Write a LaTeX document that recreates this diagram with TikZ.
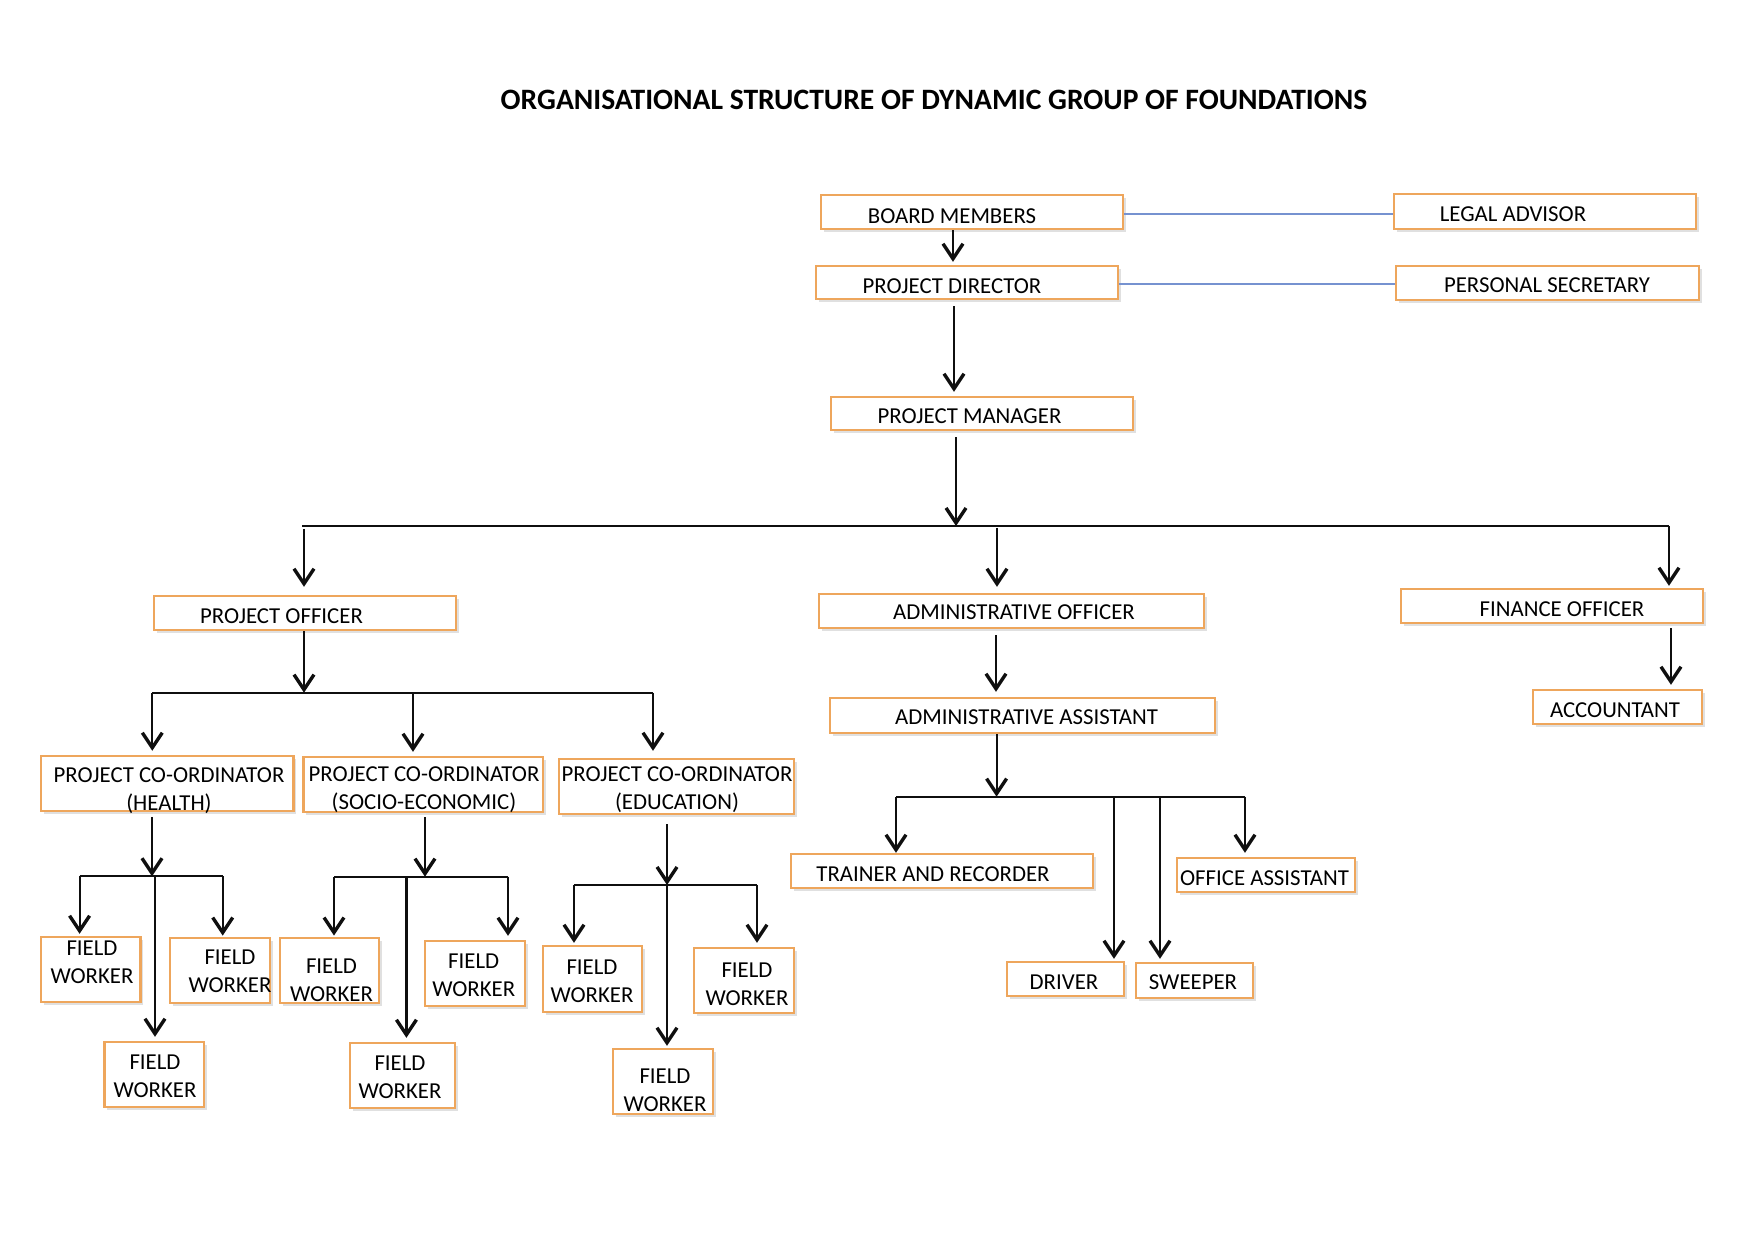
\documentclass[tikz,border=0pt]{standalone}
\usepackage{fontspec}
\setmainfont{Carlito}
\usetikzlibrary{arrows.meta,fit,shadows}
\definecolor{boxor}{RGB}{238,166,92}
\definecolor{linkblue}{RGB}{118,146,208}
\definecolor{ink}{RGB}{15,15,15}
\begin{document}
\begin{tikzpicture}[x=0.5pt,y=-0.5pt,
  box/.style={draw=boxor, line width=1.2pt, fill=white, inner sep=0pt,
    general shadow={shadow xshift=1.3pt, shadow yshift=-1.3pt, fill=black!12}},
  lbl/.style={font=\fontsize{11.4pt}{14pt}\selectfont, inner sep=0pt, anchor=base, align=center},
  ln/.style={draw=ink, line width=1.1pt},
  arr/.style={draw=ink, line width=1.1pt, -{Straight Barb[length=7.5pt,width=10pt,line width=1.7pt]}},
  bl/.style={draw=linkblue, line width=0.8pt}]
\fill[white] (0,0) rectangle (1753,1240);
\useasboundingbox (0,0) rectangle (1753,1240);

\node[font=\fontsize{14.8pt}{16pt}\selectfont\bfseries, inner sep=0pt, anchor=base] (title) at (934,110) {ORGANISATIONAL STRUCTURE OF DYNAMIC GROUP OF FOUNDATIONS};

% boxes
\node[box, fit={(821,195) (1123,229)}] (bm) {};
\node[box, fit={(816,266) (1118,299)}] (pd) {};
\node[box, fit={(831,397) (1133,430)}] (pm) {};
\node[box, fit={(1394,194) (1696,229)}] (la) {};
\node[box, fit={(1396,266) (1699,300)}] (ps) {};
\node[box, fit={(154,596) (456,630)}] (po) {};
\node[box, fit={(819,594) (1204,628)}] (ao) {};
\node[box, fit={(1401,589) (1703,623)}] (fo) {};
\node[box, fit={(1533,690) (1702,724)}] (acc) {};
\node[box, fit={(830,698) (1215,733)}] (aa) {};
\node[box, fit={(41,756) (293.5,811)}] (ch) {};
\node[box, fit={(303.5,757) (543,812)}] (cs) {};
\node[box, fit={(559,759) (794,814)}] (ce) {};
\node[box, fit={(791,854) (1093,888)}] (tr) {};
\node[box, fit={(1177,858) (1355,892)}] (oa) {};
\node[box, fit={(1007,962) (1124,996)}] (dr) {};
\node[box, fit={(1136,963) (1253,998)}] (sw) {};
\node[box, fit={(41,937) (140.5,1002)}] (fw1) {};
\node[box, fit={(170,938) (270,1003)}] (fw2) {};
\node[box, fit={(104.5,1042) (204,1107)}] (fw3) {};
\node[box, fit={(280,938) (379,1003)}] (fw4) {};
\node[box, fit={(425,941) (525,1006)}] (fw5) {};
\node[box, fit={(350,1043) (455,1108)}] (fw6) {};
\node[box, fit={(543,946) (642,1012)}] (fw7) {};
\node[box, fit={(694,948) (794,1013)}] (fw8) {};
\node[box, fit={(613,1049) (713,1114)}] (fw9) {};

% texts (multi-line nodes: base = last line baseline)
\node[lbl] (bmt) at (952,223.3) {BOARD MEMBERS};
\node[lbl] (pdt) at (952,293.3) {PROJECT DIRECTOR};
\node[lbl] (pmt) at (969.5,423.3) {PROJECT MANAGER};
\node[lbl] (lat) at (1513,221.7) {LEGAL ADVISOR};
\node[lbl] (pst) at (1547,292.3) {PERSONAL SECRETARY};
\node[lbl] (pot) at (281.5,624) {PROJECT OFFICER};
\node[lbl] (aot) at (1014,620) {ADMINISTRATIVE OFFICER};
\node[lbl] (fot) at (1562,616.7) {FINANCE OFFICER};
\node[lbl] (acct) at (1615,717.7) {ACCOUNTANT};
\node[lbl] (aat) at (1026.6,724.3) {ADMINISTRATIVE ASSISTANT};
\node[lbl] (cht) at (169,811) {PROJECT CO-ORDINATOR\\(HEALTH)};
\node[lbl] (cst) at (424,810) {PROJECT CO-ORDINATOR\\(SOCIO-ECONOMIC)};
\node[lbl] (cet) at (677,810) {PROJECT CO-ORDINATOR\\(EDUCATION)};
\node[lbl] (trt) at (933,881.7) {TRAINER AND RECORDER};
\node[lbl] (oat) at (1264.5,885.7) {OFFICE ASSISTANT};
\node[lbl] (drt) at (1064,989.3) {DRIVER};
\node[lbl] (swt) at (1193,990) {SWEEPER};
\node[lbl] (fw1t) at (92,984) {FIELD\\WORKER};
\node[lbl] (fw2t) at (230,992.7) {FIELD\\WORKER};
\node[lbl] (fw3t) at (155,1097.7) {FIELD\\WORKER};
\node[lbl] (fw4t) at (331.5,1001.7) {FIELD\\WORKER};
\node[lbl] (fw5t) at (473.7,996.7) {FIELD\\WORKER};
\node[lbl] (fw6t) at (400,1098.3) {FIELD\\WORKER};
\node[lbl] (fw7t) at (592,1002.3) {FIELD\\WORKER};
\node[lbl] (fw8t) at (747,1005.7) {FIELD\\WORKER};
\node[lbl] (fw9t) at (665,1111.7) {FIELD\\WORKER};

% blue links
\draw[bl] (bm.east |- 0,214) -- (la.west |- 0,214);
\draw[bl] (pd.east |- 0,284) -- (ps.west |- 0,284);

% top chain
\draw[arr, shorten >=1.5pt] (bm.south -| 953,0) -- (pd.north -| 953,0);
\draw[arr, shorten <=3pt, shorten >=2pt] (pd.south -| 954,0) -- (pm.north -| 954,0);

% main bus
\coordinate (b1) at (956,526);
\coordinate (b1L) at (302,526);
\coordinate (b1R) at (1669,526);
\coordinate (b1po) at (304,526);
\coordinate (b1ao) at (997,526);
\draw[arr, shorten <=3pt] (pm.south -| b1) -- (b1);
\draw[ln] (b1L) -- (b1R);
\draw[arr, shorten >=1pt] (b1R) -- (fo.north -| b1R);
\draw[arr, shorten <=1.5pt, shorten >=4pt] (b1po) -- (po.north -| b1po);
\draw[arr, shorten <=1pt, shorten >=3pt] (b1ao) -- (ao.north -| b1ao);

% project officer branch
\coordinate (b2) at (304,692.7);
\coordinate (b2L) at (152.3,692.7);
\coordinate (b2M) at (413,692.7);
\coordinate (b2R) at (653,692.7);
\draw[arr] (po.south -| b2) -- (b2);
\draw[ln] (b2L) -- (b2R);
\draw[arr, shorten >=2pt] (b2L) -- (ch.north -| b2L);
\draw[arr, shorten >=2pt] (b2M) -- (cs.north -| b2M);
\draw[arr, shorten >=3.5pt] (b2R) -- (ce.north -| b2R);

% health
\coordinate (b3) at (152,876.3);
\coordinate (b3L) at (79.6,876.3);
\coordinate (b3M) at (155,876.3);
\coordinate (b3R) at (222.7,876.3);
\draw[arr, shorten <=2.3pt] (ch.south -| b3) -- (b3);
\draw[ln] (b3L) -- (b3R);
\draw[arr, shorten >=1pt] (b3L) -- (fw1.north -| b3L);
\draw[arr, shorten >=0.6pt] (b3R) -- (fw2.north -| b3R);
\draw[arr, shorten >=2pt] (b3M) -- (fw3.north -| b3M);

% socio-economic
\coordinate (b4) at (425,876.7);
\coordinate (b4L) at (334,876.7);
\coordinate (b4M) at (406.4,876.7);
\coordinate (b4R) at (508,876.7);
\draw[arr, shorten <=2pt] (cs.south -| b4) -- (b4);
\draw[ln] (b4L) -- (b4R);
\draw[arr, shorten >=0.6pt] (b4L) -- (fw4.north -| b4L);
\draw[arr, shorten >=2pt] (b4R) -- (fw5.north -| b4R);
\draw[arr, shorten >=2pt] (b4M) -- (fw6.north -| b4M);

% education
\coordinate (b5) at (667,885);
\coordinate (b5L) at (574,885);
\coordinate (b5R) at (757,885);
\draw[arr, shorten <=4.5pt] (ce.south -| b5) -- (b5);
\draw[ln] (b5L) -- (b5R);
\draw[arr, shorten >=1pt] (b5L) -- (fw7.north -| b5L);
\draw[arr, shorten >=2pt] (b5R) -- (fw8.north -| b5R);
\draw[arr, shorten >=1pt] (b5) -- (fw9.north -| b5);

% administration
\draw[arr, shorten <=3pt, shorten >=2.5pt] (ao.south -| 996,0) -- (aa.north -| 996,0);
\coordinate (b6) at (996.6,796.7);
\coordinate (b6L) at (896,796.7);
\coordinate (b6D) at (1114,796.7);
\coordinate (b6S) at (1160,796.7);
\coordinate (b6R) at (1245,796.7);
\draw[arr] (aa.south -| b6) -- (b6);
\draw[ln] (b6L) -- (b6R);
\draw[arr] (b6L) -- (tr.north -| b6L);
\draw[arr, shorten >=1pt] (b6D) -- (dr.north -| b6D);
\draw[arr, shorten >=1.5pt] (b6S) -- (sw.north -| b6S);
\draw[arr, shorten >=2pt] (b6R) -- (oa.north -| b6R);

% finance
\draw[arr, shorten <=2pt, shorten >=2pt] (fo.south -| 1671,0) -- (acc.north -| 1671,0);
\end{tikzpicture}
\end{document}
